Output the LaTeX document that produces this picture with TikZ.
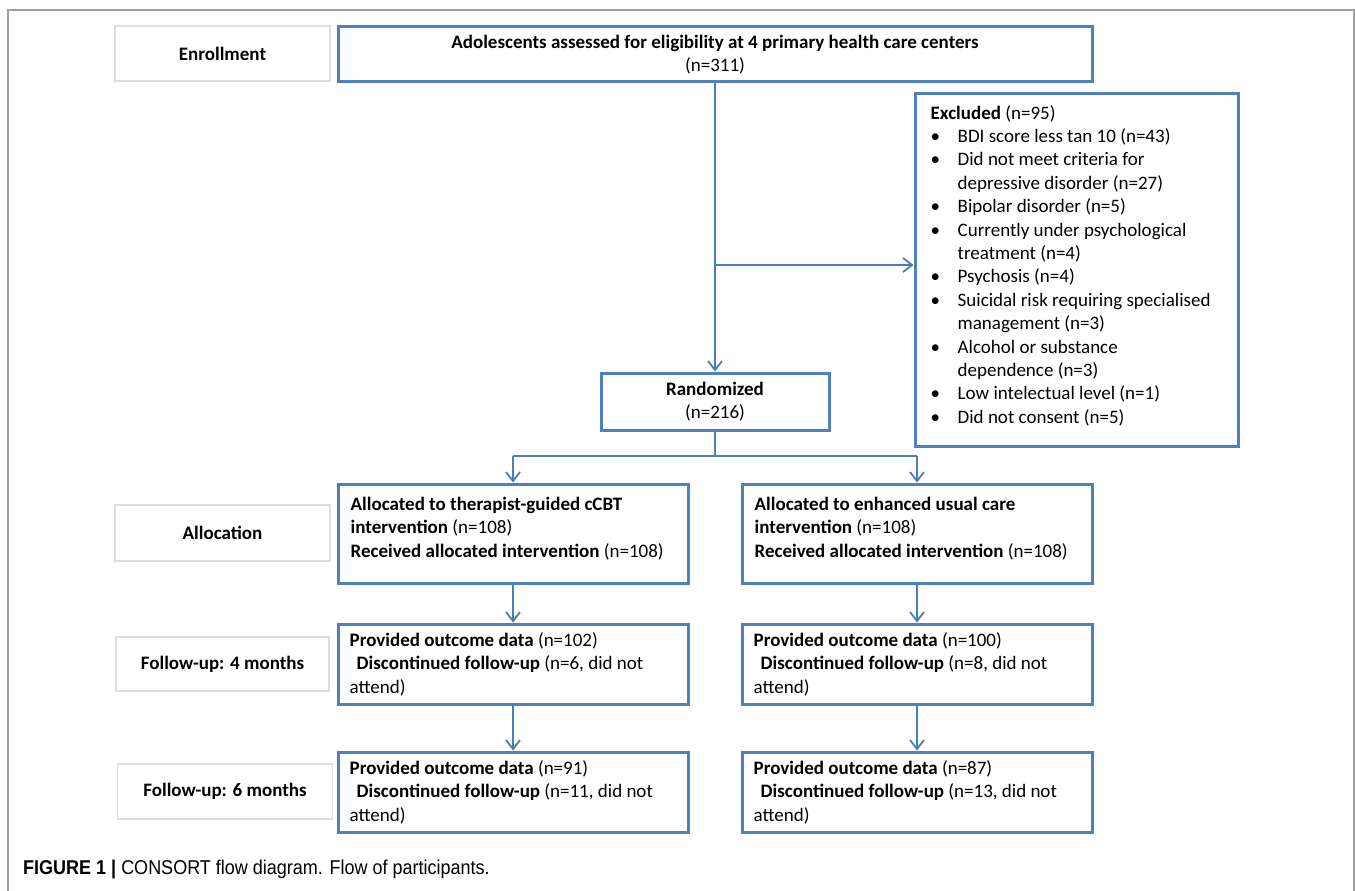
\documentclass[tikz,border=0pt]{standalone}
\usepackage{fontspec}
\setmainfont{Carlito}
\newfontfamily\capfont[FakeStretch=0.9]{Liberation Sans}
\usetikzlibrary{arrows.meta}
\definecolor{boxblue}{HTML}{4F81BD}
\definecolor{lineblue}{HTML}{4A7EBB}
\definecolor{framegray}{HTML}{A0A0A0}
\definecolor{labgray}{HTML}{DEDEDE}
\tikzset{
  box/.style={draw=boxblue, line width=3pt, inner sep=0pt},
  lab/.style={draw=labgray, line width=1.2pt, inner sep=0pt, font=\bfseries\fontsize{19}{23.5}\selectfont},
  txt/.style={inner sep=0pt, align=left, font=\fontsize{19}{23.5}\selectfont},
  conn/.style={draw=lineblue, line width=1.8pt},
  arr/.style={conn, -{Straight Barb[length=9pt,width=14pt,line width=1.8pt]}}
}
\begin{document}
\begin{tikzpicture}[x=1pt,y=-1pt]
\useasboundingbox (0,0) rectangle (1355,891);
% outer frame
\draw[framegray, line width=1.5pt] (8,891) -- (8,10) -- (1354,10) -- (1354,891);

% stage labels
\node[lab, minimum width=215pt, minimum height=55pt] (lenr) at (222.5,53.5) {Enrollment};
\node[lab, minimum width=215pt, minimum height=56pt] (lall) at (222.5,533) {Allocation};
\node[lab, minimum width=213pt, minimum height=54pt] (lfu4) at (222.5,664) {Follow-up: 4 months};
\node[lab, minimum width=215pt, minimum height=55pt] (lfu6) at (225,791.5) {Follow-up: 6 months};

% top box
\node[box, minimum width=754pt, minimum height=55pt, align=center,
      font=\fontsize{19}{23.5}\selectfont] (top) at (715,54.5)
  {\textbf{Adolescents assessed for eligibility at 4 primary health care centers}\\(n=311)};

% excluded box
\node[box, minimum width=323pt, minimum height=353pt] (excl) at (1076.5,269.5) {};
\node[txt, anchor=west, xshift=17pt, yshift=4pt, font=\fontsize{19}{23.4}\selectfont] (exclt) at (excl.west)
 {\textbf{Excluded} (n=95)\\
  \makebox[27pt][l]{\textbullet}BDI score less tan 10 (n=43)\\
  \makebox[27pt][l]{\textbullet}Did not meet criteria for\\
  \hspace*{27pt}depressive disorder (n=27)\\
  \makebox[27pt][l]{\textbullet}Bipolar disorder (n=5)\\
  \makebox[27pt][l]{\textbullet}Currently under psychological\\
  \hspace*{27pt}treatment (n=4)\\
  \makebox[27pt][l]{\textbullet}Psychosis (n=4)\\
  \makebox[27pt][l]{\textbullet}Suicidal risk requiring specialised\\
  \hspace*{27pt}management (n=3)\\
  \makebox[27pt][l]{\textbullet}Alcohol or substance\\
  \hspace*{27pt}dependence (n=3)\\
  \makebox[27pt][l]{\textbullet}Low intelectual level (n=1)\\
  \makebox[27pt][l]{\textbullet}Did not consent (n=5)};

% randomized
\node[box, minimum width=228pt, minimum height=57pt, align=center,
      font=\fontsize{19}{23.5}\selectfont] (rand) at (715,401.5)
  {\textbf{Randomized}\\(n=216)};

% allocation boxes
\node[box, minimum width=350pt, minimum height=99pt] (allL) at (513,533.5) {};
\node[box, minimum width=350pt, minimum height=99pt] (allR) at (917,533.5) {};
\node[txt, anchor=west, xshift=14pt, yshift=5pt] (allLt) at (allL.west)
 {\textbf{Allocated to therapist-guided cCBT}\\\textbf{intervention} (n=108)\\\textbf{Received allocated intervention} (n=108)};
\node[txt, anchor=west, xshift=14pt, yshift=5pt] (allRt) at (allR.west)
 {\textbf{Allocated to enhanced usual care}\\\textbf{intervention} (n=108)\\\textbf{Received allocated intervention} (n=108)};

% follow-up 4 months
\node[box, minimum width=350pt, minimum height=80pt] (f4L) at (513,664) {};
\node[box, minimum width=350pt, minimum height=80pt] (f4R) at (917,664) {};
\node[txt, anchor=west, xshift=13pt] (f4Lt) at (f4L.west)
 {\textbf{Provided outcome data} (n=102)\\\hspace*{7pt}\textbf{Discontinued follow-up} (n=6, did not\\attend)};
\node[txt, anchor=west, xshift=13pt] (f4Rt) at (f4R.west)
 {\textbf{Provided outcome data} (n=100)\\\hspace*{7pt}\textbf{Discontinued follow-up} (n=8, did not\\attend)};

% follow-up 6 months
\node[box, minimum width=350pt, minimum height=80pt] (f6L) at (513,792) {};
\node[box, minimum width=350pt, minimum height=80pt] (f6R) at (917,792) {};
\node[txt, anchor=west, xshift=13pt] (f6Lt) at (f6L.west)
 {\textbf{Provided outcome data} (n=91)\\\hspace*{7pt}\textbf{Discontinued follow-up} (n=11, did not\\attend)};
\node[txt, anchor=west, xshift=13pt] (f6Rt) at (f6R.west)
 {\textbf{Provided outcome data} (n=87)\\\hspace*{7pt}\textbf{Discontinued follow-up} (n=13, did not\\attend)};

% connectors
\coordinate (br) at (715,265);
\coordinate (sp) at (715,456);
\coordinate (spL) at (513,456);
\coordinate (spR) at (917,456);
\draw[arr] (top.south) -- (rand.north);
\draw[arr] (br) -- (br -| excl.west);
\draw[conn] (rand.south) -- (sp);
\draw[conn] (spL) -- (spR);
\draw[arr] (spL) -- (allL.north);
\draw[arr] (spR) -- (allR.north);
\draw[arr] (allL.south) -- (f4L.north);
\draw[arr] (allR.south) -- (f4R.north);
\draw[arr] (f4L.south) -- (f6L.north);
\draw[arr] (f4R.south) -- (f6R.north);

% caption
\node[anchor=west, inner sep=0pt, font=\capfont\fontsize{20}{24}\selectfont] (cap) at (23,869)
 {\textbf{FIGURE 1 |} CONSORT flow diagram. Flow of participants.};
\end{tikzpicture}
\end{document}
